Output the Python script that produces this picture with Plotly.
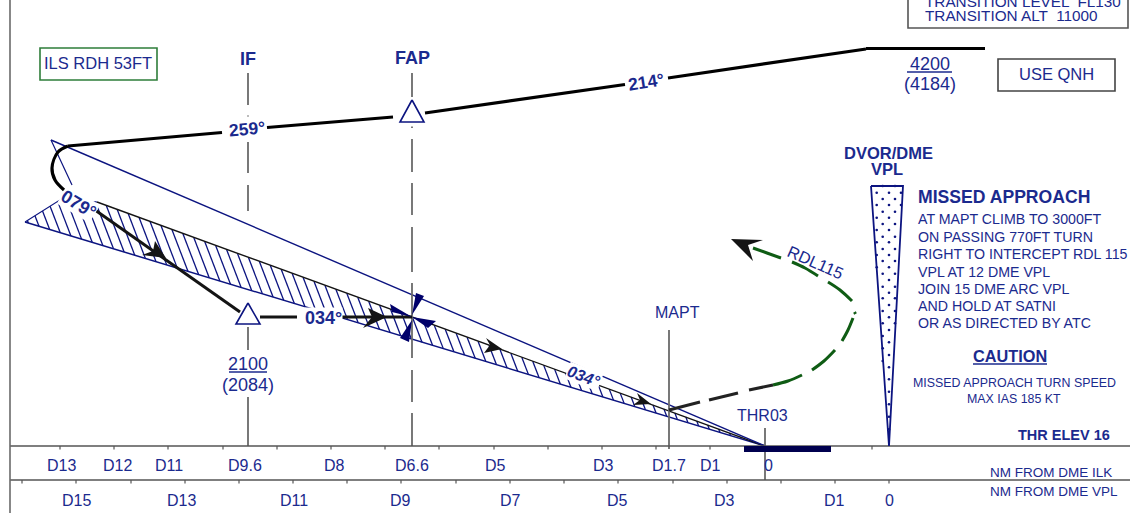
import plotly.graph_objects as go

INK = "#1b2a8e"
NAVY = "#0c1480"
BLACK = "#141414"
GRAY = "#6a6a6a"
GREEN = "#0f5c14"

# ---- chart data, in chart units (pixels of the drawing, y downward) ----
profile_segments = [
    ([68, 222], [146, 132.5]),
    ([267, 393], [127.5, 117]),
    ([425, 625], [113, 84.5]),
    ([668, 866], [78, 49]),
    ([866, 985], [48.5, 48.5]),
]
turn_x = [68, 58, 52, 55, 64]
turn_y = [146, 152, 168, 180, 190]
inbound_x = [95, 240]
inbound_y = [210, 312]
level_segments = [([260, 297], [317, 317]), ([342, 412], [317, 317])]
missed_black = [([669, 700], [410, 402]), ([709, 738], [400, 393]), ([749, 773], [390, 385])]
missed_green = [
    ([773, 788, 802], [385, 381, 375]),
    ([812, 824, 835], [370, 361, 350]),
    ([842, 848, 853], [341, 330, 318]),
    ([854.5, 855.5], [312, 314]),
    ([852, 840, 828], [301, 290, 282]),
    ([818, 805, 792], [276, 268, 262]),
    ([781, 767, 753], [258, 253, 248]),
]
vertical_dashes = [
    (248, [(73, 105), (115.5, 116.5), (142, 173), (185, 211), (327, 350), (397, 446)]),
    (412, [(73, 97), (126.5, 128), (139, 172), (183, 215), (227, 272), (283, 358), (370, 402), (413, 446)]),
    (669, [(330, 449)]),
    (765, [(428, 480)]),
]
rules_x = [10, 1130]
rule_ys = [446, 480]
ilk_ticks = [60, 114, 168, 223, 277, 331, 385, 439, 494, 548, 602, 656, 710, 764, 818, 872]
vpl_ticks = [22, 76, 131, 185, 239, 293, 347, 401, 456, 510, 564, 618, 673, 727, 781, 835, 889]
glide_top = ([51, 765], [140, 446])
glide_tip = ([51, 72], [140, 185])
hatch_area_x = [25, 63, 97, 765]
hatch_area_y = [222, 198, 202, 446]
cone_x = [871, 903, 889, 871]
cone_y = [186, 186, 446, 186]
runway_x = [744, 831, 831, 744, 744]
runway_y = [446, 446, 452, 452, 446]
dot_x = [876.7, 882.7, 889, 895, 901]
dots = [
    (186, [1, 3]), (192.7, [0, 2, 4]), (199, [1, 3]), (205, [0, 2, 4]), (211.7, [1, 3]),
    (217.7, [0, 2]), (224, [1, 3]), (230, [0, 2]), (236.7, [1, 3]), (242.3, [0, 2]),
    (249, [1, 3]), (255, [0, 2]), (261, [1, 3]), (267.3, [0, 2]), (273.7, [1, 3]),
    (280, [2]), (286.7, [1, 3]), (292.7, [2]), (298.3, [1, 3]), (305, [2]),
    (311, [1, 3]), (317.3, [2]), (323.3, [1, 3]), (330, [2]), (336, [1]), (342.3, [2]),
    (348.3, [1]), (355, [2]), (361, [1]), (367.3, [2]), (379.3, [2]), (391.7, [2]),
    (404.3, [2]), (416.7, [2]), (429.3, [2]),
]
triangles = [([248, 236, 260, 248], [303, 324, 324, 303]), ([412, 400, 424, 412], [100, 122, 122, 100])]
black_arrows = [
    ([166, 155, 153, 142, 166], [258, 241, 251, 255, 258]),
    ([387, 368, 372, 363, 387], [317, 308, 317, 328, 317]),
    ([502, 486, 490, 484, 502], [349, 338, 345, 353, 349]),
    ([651, 637, 640, 633, 651], [404, 393, 400, 405, 404]),
    ([731, 763, 748, 753, 731], [239, 240, 245, 261, 239]),
]
navy_arrows = [
    ([412, 416, 424, 412], [315, 293, 296, 315]),
    ([412, 390, 392, 412], [317, 304, 312, 317]),
    ([412, 436, 428, 412], [317, 321, 328, 317]),
    ([412, 400, 409, 412], [320, 338, 342, 320]),
]
boxes = [
    (908, -6, 1128, 28, "#555555"),
    (998, 59, 1115, 91, "#444444"),
    (40, 48, 157, 80, "#2e7d3a"),
]
underlines = [([907, 952], [72, 72]), ([229, 267], [372, 372]), ([973, 1047], [364, 364])]

# (text, x, y, size, bold, rotation, anchor, white background, italic)
labels = [
    ("TRANSITION LEVEL  FL130", 924, 1.5, 15.3, False, 0, "left", False, False),
    ("TRANSITION ALT  11000", 924, 15, 15.3, False, 0, "left", False, False),
    ("ILS RDH 53FT", 97.5, 63, 16.5, False, 0, "center", False, False),
    ("IF", 248, 59, 18, True, 0, "center", False, False),
    ("FAP", 412, 58, 18, True, 0, "center", False, False),
    ("214°", 646, 82, 17.5, True, -9, "center", False, False),
    ("259°", 247, 129, 17.5, True, -5, "center", False, False),
    ("4200", 929.5, 64, 18, False, 0, "center", False, False),
    ("(4184)", 929.5, 84, 18, False, 0, "center", False, False),
    ("USE QNH", 1056, 74, 16.5, False, 0, "center", False, False),
    ("DVOR/DME", 888, 153, 16.5, True, 0, "center", False, False),
    ("VPL", 887, 169, 16.5, True, 0, "center", False, False),
    ("MISSED APPROACH", 916.5, 197, 17.6, True, 0, "left", False, False),
    ("AT MAPT CLIMB TO 3000FT", 916.5, 219, 14.2, False, 0, "left", False, False),
    ("ON PASSING 770FT TURN", 916.5, 237, 14.2, False, 0, "left", False, False),
    ("RIGHT TO INTERCEPT RDL 115", 916.5, 254, 14.2, False, 0, "left", False, False),
    ("VPL AT 12 DME VPL", 916.5, 272, 14.2, False, 0, "left", False, False),
    ("JOIN 15 DME ARC VPL", 916.5, 289, 14.2, False, 0, "left", False, False),
    ("AND HOLD AT SATNI", 916.5, 306, 14.2, False, 0, "left", False, False),
    ("OR AS DIRECTED BY ATC", 916.5, 323, 14.2, False, 0, "left", False, False),
    ("CAUTION", 1010, 356, 16.3, True, 0, "center", False, False),
    ("MISSED APPROACH TURN SPEED", 1014, 383, 12.4, False, 0, "center", False, False),
    ("MAX IAS 185 KT", 1014, 399, 12.4, False, 0, "center", False, False),
    ("THR ELEV 16", 1111, 435, 14.5, True, 0, "right", False, False),
    ("NM FROM DME ILK", 989, 472, 13.5, False, 0, "left", False, False),
    ("NM FROM DME VPL", 989, 491, 13.5, False, 0, "left", False, False),
    ("079°", 78, 204, 18, True, 31, "center", True, False),
    ("034°", 323, 318, 18, True, 0, "center", True, False),
    ("034°", 584, 376, 16, True, 21, "center", True, True),
    ("2100", 248, 364, 18, False, 0, "center", False, False),
    ("(2084)", 248, 385, 18, False, 0, "center", False, False),
    ("MAPT", 677.5, 312, 16, False, 0, "center", False, False),
    ("THR03", 762, 415, 16, False, 0, "center", False, False),
    ("RDL115", 815, 262, 16.5, False, 24, "center", False, False),
]
ilk_labels = [("D13", 61), ("D12", 117), ("D11", 169), ("D9.6", 245), ("D8", 334), ("D6.6", 412),
              ("D5", 495), ("D3", 603), ("D1.7", 669), ("D1", 710), ("0", 768)]
vpl_labels = [("D15", 76), ("D13", 181), ("D11", 294), ("D9", 400), ("D7", 510), ("D5", 617),
              ("D3", 724), ("D1", 834), ("0", 889)]

# ---- drawing helpers ----
fig = go.Figure()


def line(xs, ys, color, width, shape="linear"):
    fig.add_trace(go.Scatter(x=xs, y=ys, mode="lines", hoverinfo="skip",
                             line=dict(color=color, width=width, shape=shape)))


def solid(xs, ys, color, edge=None, width=0):
    fig.add_trace(go.Scatter(x=xs, y=ys, mode="lines", fill="toself", fillcolor=color, hoverinfo="skip",
                             line=dict(color=edge or color, width=width)))


def hatch_segments(px, py, step=9.4, tilt=2.6):
    """Clip the slanted hatch pattern to the hatched polygon."""
    hx, hy = [], []
    n = len(px)
    c = min(px) - 120
    while c < max(px) + 20:
        hits = []
        for i in range(n):
            x1, y1 = px[i], py[i]
            x2, y2 = px[(i + 1) % n], py[(i + 1) % n]
            f1 = x1 - y1 / tilt - c
            f2 = x2 - y2 / tilt - c
            if f1 * f2 <= 0 and f1 != f2:
                t = f1 / (f1 - f2)
                hits.append((x1 + t * (x2 - x1), y1 + t * (y2 - y1)))
        if len(hits) >= 2:
            a, b = min(hits, key=lambda h: h[1]), max(hits, key=lambda h: h[1])
            hx += [a[0], b[0], None]
            hy += [a[1], b[1], None]
        c += step
    return hx, hy


# ---- marks ----
hx, hy = hatch_segments(hatch_area_x, hatch_area_y)
line(hx, hy, NAVY, 1.3)
line(hatch_area_x[:3], hatch_area_y[:3], NAVY, 1.1)
line([hatch_area_x[0], hatch_area_x[3]], [hatch_area_y[0], hatch_area_y[3]], NAVY, 1.5)
line(hatch_area_x[2:], hatch_area_y[2:], BLACK, 1.4)
line(*glide_top, NAVY, 1.4)
line(*glide_tip, NAVY, 1.2)

for x, spans in vertical_dashes:
    for y0, y1 in spans:
        line([x, x], [y0, y1], GRAY, 1.8)

for y in rule_ys:
    line(rules_x, [y, y], "#555555", 1.6)
line([rules_x[0], rules_x[0]], [0, 513], GRAY, 1.6)
for x in ilk_ticks:
    line([x, x], [446, 449.5], "#555555", 1.2)
for x in vpl_ticks:
    line([x, x], [480, 483.5], "#555555", 1.2)

solid(runway_x, runway_y, "#00004f")
fig.add_trace(go.Scatter(x=cone_x, y=cone_y, mode="lines", hoverinfo="skip", line=dict(color=NAVY, width=1.8)))
dx, dy = [], []
for y, cols in dots:
    for c in cols:
        dx.append(dot_x[c])
        dy.append(y)
fig.add_trace(go.Scatter(x=dx, y=dy, mode="markers", hoverinfo="skip", marker=dict(color=NAVY, size=2.6)))

for xs, ys in profile_segments:
    line(xs, ys, "#000000", 3.2)
line(turn_x, turn_y, "#000000", 3.2, "spline")
line(inbound_x, inbound_y, BLACK, 3)
for xs, ys in level_segments:
    line(xs, ys, BLACK, 3.2)
for xs, ys in missed_black:
    line(xs, ys, "#222222", 3)
for xs, ys in missed_green:
    line(xs, ys, GREEN, 3, "spline")

for xs, ys in black_arrows:
    solid(xs, ys, "#141414")
for xs, ys in navy_arrows:
    solid(xs, ys, "#00006a")
for xs, ys in triangles:
    solid(xs, ys, "#ffffff", NAVY, 1.6)
for xs, ys in underlines:
    line(xs, ys, INK, 1.4)

shapes = [dict(type="rect", x0=a, y0=b, x1=c, y1=d, line=dict(color=col, width=1.6), fillcolor="rgba(0,0,0,0)")
          for a, b, c, d, col in boxes]

annotations = []


def label(text, x, y, size, bold=False, rot=0, anchor="center", white=False, italic=False):
    t = text
    if bold:
        t = "<b>" + t + "</b>"
    if italic:
        t = "<i>" + t + "</i>"
    annotations.append(dict(x=x, y=y, text=t, showarrow=False, xanchor=anchor, yanchor="middle",
                            textangle=rot, borderpad=0,
                            bgcolor="#ffffff" if white else "rgba(0,0,0,0)",
                            font=dict(family="Liberation Sans", size=size, color=INK)))


for item in labels:
    label(*item)
for text, x in ilk_labels:
    label(text, x, 465, 16)
for text, x in vpl_labels:
    label(text, x, 500, 16)

fig.update_layout(
    width=1130, height=513, margin=dict(l=0, r=0, t=0, b=0),
    paper_bgcolor="#ffffff", plot_bgcolor="#ffffff", showlegend=False, hovermode=False,
    xaxis=dict(range=[0, 1130], visible=False, fixedrange=True),
    yaxis=dict(range=[513, 0], visible=False, fixedrange=True),
    shapes=shapes, annotations=annotations,
)
fig.write_html("out.html", config={"displayModeBar": False},
               post_script="document.body.style.margin='0';document.body.style.overflow='hidden';")
